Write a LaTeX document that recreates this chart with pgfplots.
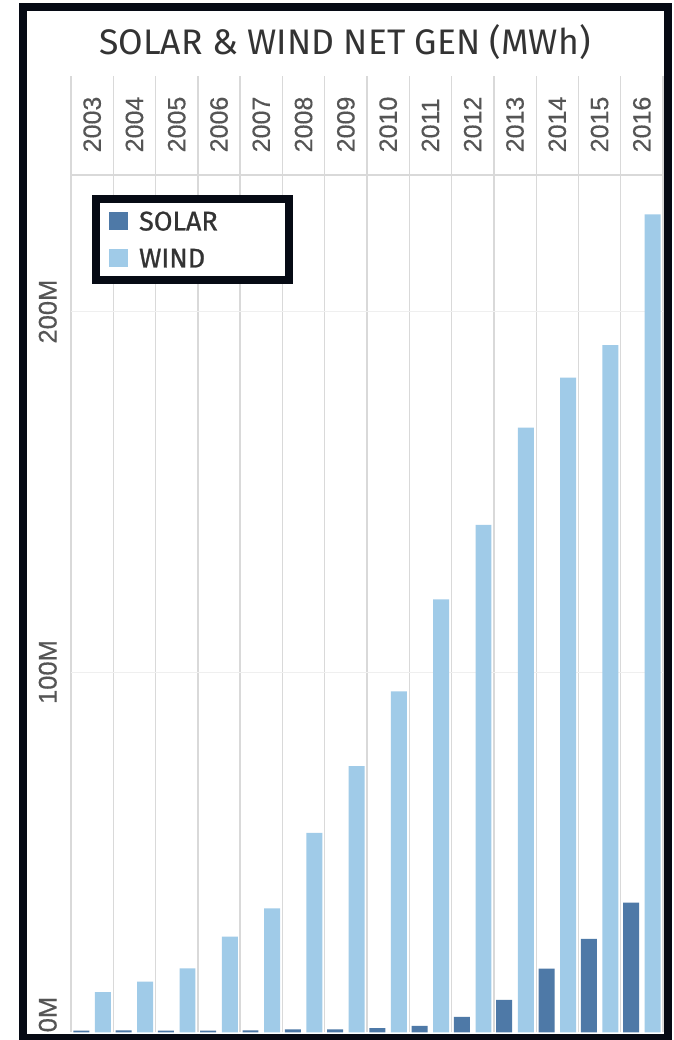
\documentclass[border=0pt]{standalone}
\usepackage{fontspec}
\usepackage{pgfplots}
\pgfplotsset{compat=1.18}
\usepackage{pgfplotstable}
\setmainfont{Liberation Sans}
\newfontfamily\titlefont{Fira Sans}
\newfontfamily\legfont{Fira Sans}[FakeBold=0.9]
\newfontfamily\tickfont{Liberation Sans}[FakeBold=0.4]
\definecolor{solarc}{HTML}{4E79A7}
\definecolor{windc}{HTML}{A0CBE8}
\definecolor{gridc}{HTML}{D9D9D9}
\definecolor{hgridc}{HTML}{EFEFEF}
\definecolor{framec}{HTML}{060A14}
\definecolor{txtc}{HTML}{333333}
\definecolor{tickc}{HTML}{555555}

\pgfplotstableread{
idx year solar wind
0 2003 0.53 11.19
1 2004 0.58 14.14
2 2005 0.55 17.81
3 2006 0.51 26.59
4 2007 0.61 34.45
5 2008 0.86 55.36
6 2009 0.89 73.89
7 2010 1.21 94.65
8 2011 1.82 120.18
9 2012 4.33 140.82
10 2013 9.04 167.84
11 2014 17.69 181.66
12 2015 26.0 190.72
13 2016 36.05 226.99
}\datatable

\begin{document}
\begin{tikzpicture}[x=1pt,y=1pt]
\useasboundingbox (0,0) rectangle (673,1040);
\fill[white] (0,0) rectangle (673,1040);
\begin{axis}[
 at={(71pt,7.5pt)}, anchor=south west,
 scale only axis, width=592pt, height=857.5pt,
 xmin=-0.5, xmax=13.5, ymin=0, ymax=237.9,
 axis line style={draw=none},
 major tick length=0pt, minor tick length=0pt,
 xtick={0,...,13},
 xticklabels={2003,2004,2005,2006,2007,2008,2009,2010,2011,2012,2013,2014,2015,2016},
 xticklabel pos=upper,
 xticklabel style={rotate=90, anchor=west, inner sep=0pt, font=\tickfont\fontsize{25}{25}\selectfont, text=tickc},
 xticklabel shift=22.5pt,
 minor xtick={-0.5,0.5,...,13.5},
 xminorgrids=true,
 minor x grid style={gridc, line width=1.3pt},
 ytick={100,200}, yticklabels={100M,200M},
 ymajorgrids=true, major grid style={hgridc, line width=1pt},
 yticklabel style={rotate=90, anchor=south, inner sep=0pt, font=\tickfont\fontsize{25.5}{25.5}\selectfont, text=tickc},
 yticklabel shift=14pt,
 extra y ticks={0}, extra y tick labels={0M},
 extra y tick style={grid=none, yticklabel style={anchor=south west}},
 legend style={at={(0.036,0.9767)}, anchor=north west, draw=framec, line width=8pt, fill=white,
   inner xsep=13pt, inner ysep=13pt, row sep=18.5pt,
   font=\legfont\fontsize{27}{27}\selectfont, text=txtc,
   nodes={inner sep=0pt, text height=18.5pt, text depth=0pt},
   /tikz/every odd column/.append style={column sep=11.3pt}},
 legend cell align=left,
 clip=false,
]
\addplot[ybar, bar width=0.378, bar shift=-0.255, fill=solarc, draw=none,
  legend image code/.code={\fill[solarc] (0pt,-9.25pt) rectangle (18.5pt,9.25pt);}]
  table[x=idx, y=solar]{\datatable};
\addplot[ybar, bar width=0.378, bar shift=0.255, fill=windc, draw=none,
  legend image code/.code={\fill[windc] (0pt,-9.25pt) rectangle (18.5pt,9.25pt);}]
  table[x=idx, y=wind]{\datatable};
\legend{\makebox[136.7pt][l]{SOLAR}, WIND}
\end{axis}
\foreach \i in {0,...,14} \draw[gridc, line width=1.3pt] ({71+\i*592/14}, 865) -- ++(0,99);
\draw[gridc, line width=1.3pt] (71,865) -- (663,865);
\node[anchor=base, font=\titlefont\fontsize{35.5}{35.5}\selectfont, text=txtc, inner sep=0pt] at (345,985) {SOLAR \& WIND NET GEN (MWh)};
\draw[framec, line width=8pt] (23,1032.7) rectangle (668,2);
\end{tikzpicture}
\end{document}
